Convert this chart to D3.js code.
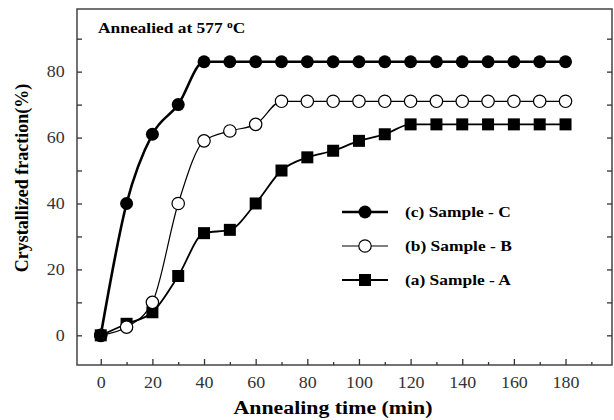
<!DOCTYPE html>
<html>
<head>
<meta charset="utf-8">
<script src="https://cdn.jsdelivr.net/npm/d3@7"></script>
<style>
  body { margin: 0; background: #fff; }
  text { font-family: "Liberation Serif", "Times New Roman", serif; }
</style>
</head>
<body>
<div id="chart"></div>
<script>
// annealing times (min)
const times = [0, 10, 20, 30, 40, 50, 60, 70, 80, 90, 100, 110, 120, 130, 140, 150, 160, 170, 180];

// crystallized fraction (%) per sample
const sampleC = [0, 40, 61, 70, 83, 83, 83, 83, 83, 83, 83, 83, 83, 83, 83, 83, 83, 83, 83];
const sampleB = [0, 2.5, 10, 40, 59, 62, 64, 71, 71, 71, 71, 71, 71, 71, 71, 71, 71, 71, 71];
const sampleA = [0, 3.5, 7, 18, 31, 32, 40, 50, 54, 56, 59, 61, 64, 64, 64, 64, 64, 64, 64];

const seriesNames = ["(c) Sample - C", "(b) Sample - B", "(a) Sample - A"];
const xTicks = [0, 20, 40, 60, 80, 100, 120, 140, 160, 180];
const yTicks = [0, 20, 40, 60, 80];

const width = 614, height = 420;
const box = { left: 77, right: 612, top: 9, bottom: 365 };

const svg = d3.select("#chart").append("svg")
    .attr("width", width)
    .attr("height", height);

const x = d3.scaleLinear().domain([-9.2, 198]).range([box.left, box.right]);
const y = d3.scaleLinear().domain([-9, 99]).range([box.bottom, box.top]);

// frame
svg.append("rect")
    .attr("x", box.left).attr("y", box.top)
    .attr("width", box.right - box.left)
    .attr("height", box.bottom - box.top)
    .attr("fill", "none")
    .attr("stroke", "#444")
    .attr("stroke-width", 1.5);

// x axis, ticks pointing inward
svg.append("g")
    .attr("transform", `translate(0,${box.bottom})`)
    .call(d3.axisBottom(x).tickValues(d3.range(10, 200, 20)).tickSize(-3).tickFormat(""));
svg.append("g")
    .attr("transform", `translate(0,${box.bottom})`)
    .call(d3.axisBottom(x).tickValues(xTicks).tickSize(-6).tickPadding(12));

// y axis left + right mirror
svg.append("g")
    .attr("transform", `translate(${box.left},0)`)
    .call(d3.axisLeft(y).tickValues(yTicks).tickSize(-5).tickPadding(11));
svg.append("g")
    .attr("transform", `translate(${box.left},0)`)
    .call(d3.axisLeft(y).tickValues([10, 30, 50, 70, 90]).tickSize(-5).tickFormat(""));
svg.append("g")
    .attr("transform", `translate(${box.right},0)`)
    .call(d3.axisRight(y).tickValues(d3.range(0, 100, 10)).tickSize(-5).tickFormat(""));

svg.selectAll(".domain").remove();
svg.selectAll(".tick line").attr("stroke", "#333").attr("stroke-width", 1.3);
svg.selectAll(".tick text")
    .attr("fill", "#333")
    .attr("transform", "scale(1.12,1)")
    .style("font-size", "16px");

// axis titles
svg.append("text")
    .attr("transform", "translate(333,414) scale(1.15,1)")
    .attr("text-anchor", "middle")
    .style("font-size", "19px")
    .style("font-weight", "bold")
    .text("Annealing time (min)");

svg.append("text")
    .attr("transform", "translate(28,178) rotate(-90)")
    .attr("text-anchor", "middle")
    .style("font-size", "18px")
    .style("font-weight", "bold")
    .text("Crystallized fraction(%)");

// annotation
const note = svg.append("text")
    .attr("transform", "translate(98,33) scale(1.16,1)")
    .style("font-size", "15px")
    .style("font-weight", "bold")
    .text("Annealied at 577 ");
note.append("tspan").attr("dy", -5).style("font-size", "10px").text("o");
note.append("tspan").attr("dy", 5).text("C");

const line = d3.line()
    .x(d => x(d[0]))
    .y(d => y(d[1]))
    .curve(d3.curveMonotoneX);

const series = [
  { name: seriesNames[0], values: sampleC, width: 2.6, marker: "filled" },
  { name: seriesNames[1], values: sampleB, width: 1.2, marker: "open" },
  { name: seriesNames[2], values: sampleA, width: 1.8, marker: "square" }
];

function drawMarker(g, type, cx, cy) {
  if (type === "square") {
    g.append("rect")
        .attr("x", cx - 6).attr("y", cy - 6)
        .attr("width", 12).attr("height", 12)
        .attr("fill", "#000");
  } else if (type === "open") {
    g.append("circle")
        .attr("cx", cx).attr("cy", cy).attr("r", 6.2)
        .attr("fill", "#fff").attr("stroke", "#000").attr("stroke-width", 1.2);
  } else {
    g.append("circle")
        .attr("cx", cx).attr("cy", cy).attr("r", 6.5)
        .attr("fill", "#000");
  }
}

// draw in order A, B, C so C sits on top
series.slice().reverse().forEach(s => {
  const pts = times.map((t, i) => [t, s.values[i]]);
  svg.append("path")
      .datum(pts)
      .attr("fill", "none")
      .attr("stroke", "#000")
      .attr("stroke-width", s.width)
      .attr("d", line);
  const g = svg.append("g");
  pts.forEach(p => drawMarker(g, s.marker, x(p[0]), y(p[1])));
});

// legend
const legendY = [212, 246, 280];
series.forEach((s, i) => {
  const ly = legendY[i];
  svg.append("line")
      .attr("x1", 342).attr("x2", 388)
      .attr("y1", ly).attr("y2", ly)
      .attr("stroke", "#000")
      .attr("stroke-width", s.width);
  drawMarker(svg.append("g"), s.marker, 365, ly);
  svg.append("text")
      .attr("transform", `translate(405,${ly}) scale(1.16,1)`)
      .attr("dy", "0.35em")
      .style("font-size", "15px")
      .style("font-weight", "bold")
      .text(s.name);
});
</script>
</body>
</html>
